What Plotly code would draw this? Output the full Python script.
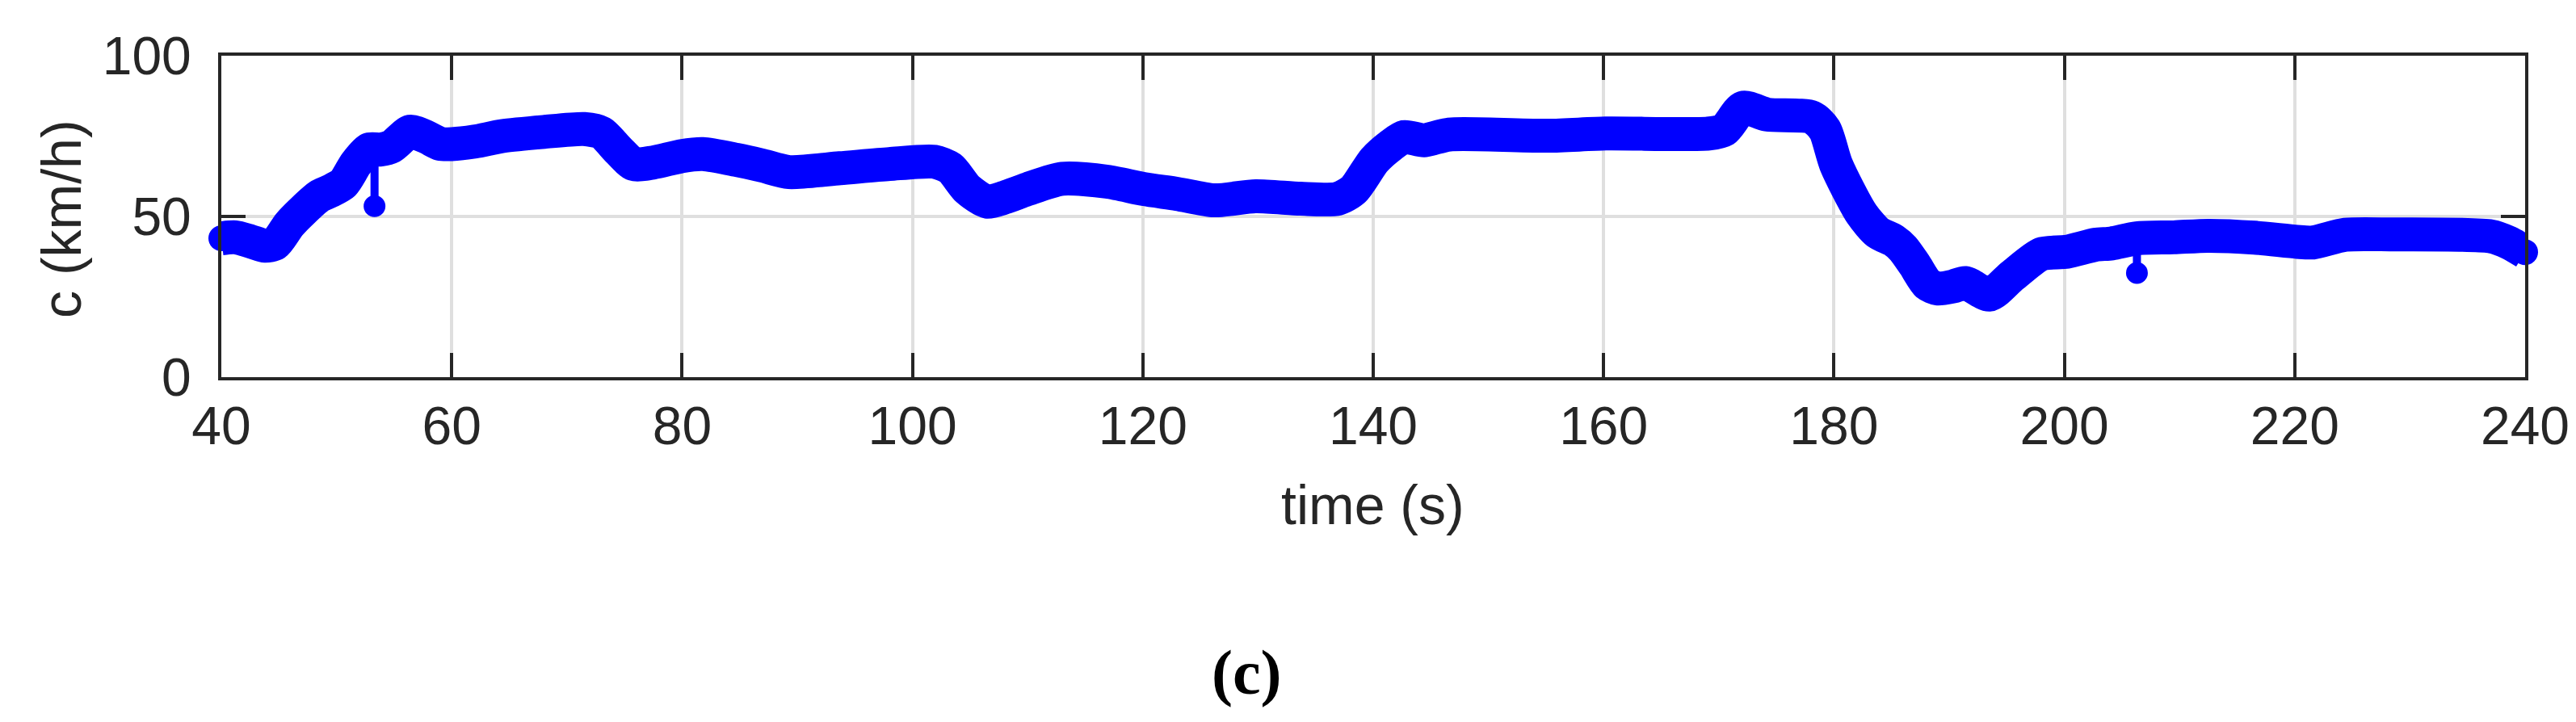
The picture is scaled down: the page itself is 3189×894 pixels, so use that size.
import plotly.graph_objects as go

# ---- data ----
time_s = [40, 41.2, 42.5, 43.8, 44.7, 45.9, 47.1, 48.5, 49.4, 50.6, 51.7, 52.8,
          53.8, 54.8, 56.4, 57.8, 59, 60, 62, 64.4, 68, 71.5, 73, 74.5, 75.8, 77.5,
          80, 81.8, 84.7, 87, 89.3, 93.7, 98, 101.9, 103.3, 104.8, 106.5, 108, 110,
          113, 116.9, 120.1, 123, 126.2, 129.8, 133.7, 136.9, 138.3, 140.1, 141.5,
          142.7, 144.4, 146.6, 155.2, 160.2, 169.1, 170.5, 172.1, 174.2, 178.1, 179.2,
          180.2, 182.4, 183.8, 185.2, 186, 187, 188.1, 189, 190.3, 191.4, 193.5, 195.5,
          198, 200.2, 202.7, 204.1, 206.3, 209.5, 212.5, 216.5, 220.2, 221.6, 224.4,
          228.4, 237, 238.6, 240]
speed_kmh = [43.2, 43.5, 42.3, 40.9, 41.6, 47.5, 51.9, 56.3, 57.8, 60.3, 66.5, 70.8,
             70.8, 71.8, 76.4, 74.7, 72.6, 72.5, 73.3, 75, 76.3, 77.2, 76, 70.5, 66.3, 66.8,
             68.8, 69.4, 67.6, 65.8, 63.8, 65, 66.3, 67, 65, 58.4, 54.6, 55.9, 58.5,
             61.7, 60.8, 58.5, 57, 55, 56.3, 55.5, 55.5, 58.3, 67.5, 72,
             74.7, 73.7, 75.5, 75.1, 75.8, 75.8, 77, 83.8, 81.7, 80.8, 77,
             66, 50.8, 45, 42.5, 40, 35, 29, 27.6, 28.2, 29.3, 25.7, 31.6,
             38.3, 39, 41.2, 41.6, 43.2, 43.5, 44, 43.4, 42.1, 41.9, 44.3,
             44.4, 43.8, 41.8, 38.9]

# isolated outlier samples (spikes): time, baseline value, outlier value
spike_t = [53.3, 206.3]
spike_base = [70.8, 43.2]
spike_v = [53.2, 32.4]

x_ticks = [40, 60, 80, 100, 120, 140, 160, 180, 200, 220, 240]
y_ticks = [0, 50, 100]

x_title = "time (s)"
y_title = "c (km/h)"
caption = "(c)"

BLUE = "#0000ff"
INK = "#262626"
GRID = "#dfdfdf"

fig = go.Figure()

for t, b, v in zip(spike_t, spike_base, spike_v):
    fig.add_trace(go.Scatter(x=[t, t], y=[b, v], mode="lines",
                             line=dict(color=BLUE, width=10),
                             showlegend=False, hoverinfo="skip"))
fig.add_trace(go.Scatter(x=spike_t, y=spike_v, mode="markers",
                         marker=dict(color=BLUE, size=27, line=dict(width=0)),
                         showlegend=False, cliponaxis=False))

fig.add_trace(go.Scatter(x=time_s, y=speed_kmh, mode="lines",
                         line=dict(color=BLUE, width=42, shape="spline", smoothing=0.7),
                         showlegend=False))
# rounded ends of the thick trace
fig.add_trace(go.Scatter(x=[time_s[0], time_s[-1]], y=[speed_kmh[0], speed_kmh[-1]],
                         mode="markers",
                         marker=dict(color=BLUE, size=32, line=dict(width=0)),
                         showlegend=False, cliponaxis=False))

W, H = 3189, 894
L, R, T, B = 266, 3118, 61, 459

axis_common = dict(
    showline=True, linecolor=INK, linewidth=4, mirror="ticks",
    ticks="inside", ticklen=30, tickwidth=4, tickcolor=INK,
    showgrid=True, gridcolor=GRID, gridwidth=4, zeroline=False,
    tickfont=dict(family="Liberation Sans, Arial, sans-serif", size=66, color=INK),
)

fig.update_layout(
    width=W, height=H,
    margin=dict(l=L, r=W - R, t=T, b=H - B, pad=0),
    paper_bgcolor="white", plot_bgcolor="white",
    xaxis=dict(range=[40, 240], tickvals=x_ticks, ticklabelstandoff=0, **axis_common),
    yaxis=dict(range=[0, 100], tickvals=y_ticks, ticklabelstandoff=20, **axis_common),
    font=dict(family="Liberation Sans, Arial, sans-serif", color=INK),
)

def px_x(p):
    return (p - L) / (R - L)

def px_y(p):
    return (B - p) / (B - T)

fig.add_annotation(text=y_title, xref="paper", yref="paper",
                   x=px_x(68), y=px_y(263), xanchor="center", yanchor="middle",
                   textangle=-90, showarrow=False,
                   font=dict(family="Liberation Sans, Arial, sans-serif", size=68, color=INK))
fig.add_annotation(text=x_title, xref="paper", yref="paper",
                   x=px_x(1691), y=px_y(617), xanchor="center", yanchor="middle",
                   showarrow=False,
                   font=dict(family="Liberation Sans, Arial, sans-serif", size=68, color=INK))
fig.add_annotation(text="<b>" + caption + "</b>", xref="paper", yref="paper",
                   x=px_x(1535), y=px_y(824), xanchor="center", yanchor="middle",
                   showarrow=False,
                   font=dict(family="Liberation Serif, Times New Roman, serif", size=78, color="black"))

fig.write_html("out.html")
